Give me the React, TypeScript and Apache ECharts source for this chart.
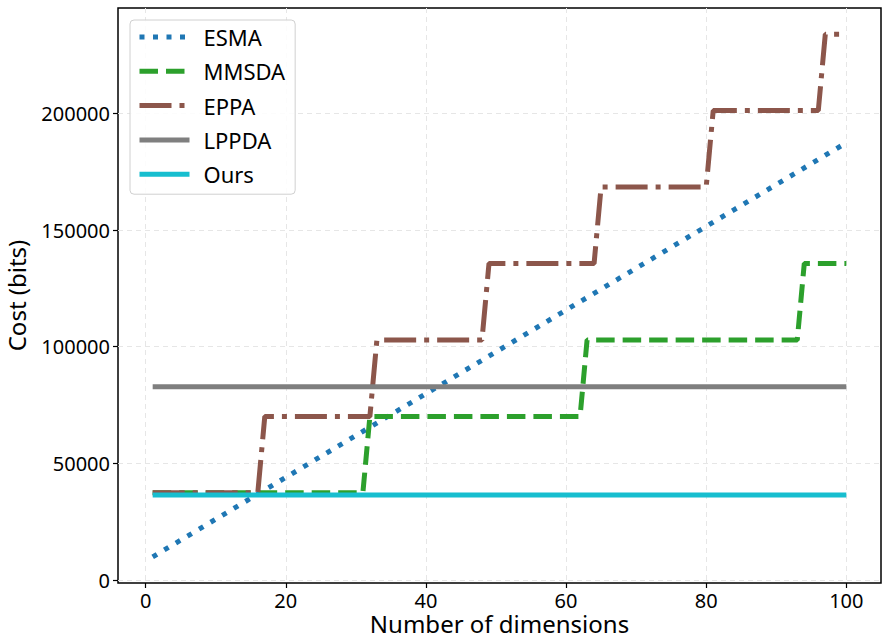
import React, { useEffect, useRef } from "react";
import * as echarts from "echarts";

const FONT = "Noto Sans";

// x ticks / y ticks
const xTicks = [0, 20, 40, 60, 80, 100];
const yTicks = [0, 50000, 100000, 150000, 200000];

// ESMA (linear)
const esmaDims = [1, 100];
const esmaCost = [9984, 187392];

// MMSDA (steps)
const mmsdaDims = [1, 31, 32, 62, 63, 93, 94, 100];
const mmsdaCost = [37400, 37400, 70150, 70150, 102900, 102900, 135650, 135650];

// EPPA (steps)
const eppaDims = [1, 16, 17, 32, 33, 48, 49, 64, 65, 80, 81, 96, 97, 100];
const eppaCost = [
  37400, 37400, 70150, 70150, 102900, 102900, 135650, 135650, 168400, 168400,
  201150, 201150, 233900, 233900,
];

// LPPDA (constant)
const lppdaDims = [1, 100];
const lppdaCost = [82900, 82900];

// Ours (constant)
const oursDims = [1, 100];
const oursCost = [36500, 36500];

const zip = (xs: number[], ys: number[]) => xs.map((x, i) => [x, ys[i]]);

export default function App() {
  const ref = useRef<HTMLDivElement>(null);
  useEffect(() => {
    if (!ref.current) return;
    const chart = echarts.init(ref.current, null, { renderer: "svg" });
    const line = (name: string, data: number[][], color: string, type: any, z: number) => ({
      name,
      type: "line",
      data,
      showSymbol: false,
      symbol: "none",
      z,
      lineStyle: { color, width: 5, type, cap: "butt" },
      itemStyle: { color },
    });
    chart.setOption({
      animation: false,
      textStyle: { fontFamily: FONT },
      grid: {
        left: 118,
        right: 1,
        top: 8,
        bottom: 58,
        outerBoundsMode: "none",
        containLabel: false,
        show: true,
        borderColor: "#000",
        borderWidth: 1.5,
        backgroundColor: "transparent",
      },
      legend: {
        orient: "vertical",
        left: 130,
        top: 20,
        padding: [6, 10, 9, 7],
        itemWidth: 50,
        itemHeight: 14,
        itemGap: 12.3,
        backgroundColor: "rgba(255,255,255,0.85)",
        borderColor: "#d0d0d0",
        borderWidth: 1,
        borderRadius: 4,
        lineStyle: { width: 5 },
        itemStyle: { opacity: 0 },
        textStyle: { fontSize: 22, fontFamily: FONT, color: "#000", padding: [0, 0, 0, 9] },
        data: ["ESMA", "MMSDA", "EPPA", "LPPDA", "Ours"],
      },
      xAxis: {
        type: "value",
        min: -3.95,
        max: 104.95,
        name: "Number of dimensions",
        nameLocation: "middle",
        nameGap: 28,
        nameMoveOverlap: false,
        nameTextStyle: { fontSize: 24, lineHeight: 24, fontFamily: FONT, color: "#000" },
        axisLine: { show: false, onZero: false },
        axisTick: { show: true, customValues: xTicks, length: 5, lineStyle: { color: "#000", width: 1.2 } },
        axisLabel: {
          customValues: xTicks,
          fontSize: 20,
          lineHeight: 20,
          fontFamily: FONT,
          color: "#000",
          margin: 7,
          formatter: (v: number) => String(v),
        },
        splitLine: { show: true, lineStyle: { color: "#e6e6e6", type: [5, 4], width: 1 } },
      },
      yAxis: {
        type: "value",
        min: -1212,
        max: 245104,
        name: "Cost (bits)",
        nameLocation: "middle",
        nameGap: 90,
        nameMoveOverlap: false,
        nameTextStyle: { fontSize: 24, lineHeight: 24, fontFamily: FONT, color: "#000" },
        axisLine: { show: false, onZero: false },
        axisTick: { show: true, customValues: yTicks, length: 5, lineStyle: { color: "#000", width: 1.2 } },
        axisLabel: {
          customValues: yTicks,
          fontSize: 20,
          lineHeight: 20,
          fontFamily: FONT,
          color: "#000",
          margin: 8,
          formatter: (v: number) => String(v),
        },
        splitLine: { show: true, lineStyle: { color: "#e6e6e6", type: [5, 4], width: 1 } },
      },
      series: [
        line("ESMA", zip(esmaDims, esmaCost), "#1f77b4", [5, 8.5], 2),
        line("MMSDA", zip(mmsdaDims, mmsdaCost), "#2ca02c", [18.5, 8], 3),
        line("EPPA", zip(eppaDims, eppaCost), "#8c564b", [32, 8, 5, 8], 4),
        line("LPPDA", zip(lppdaDims, lppdaCost), "#7f7f7f", "solid", 5),
        line("Ours", zip(oursDims, oursCost), "#17becf", "solid", 6),
      ],
    });
    return () => chart.dispose();
  }, []);
  return <div ref={ref} style={{ width: 882, height: 641, position: "absolute", left: 0, top: 0 }} />;
}
